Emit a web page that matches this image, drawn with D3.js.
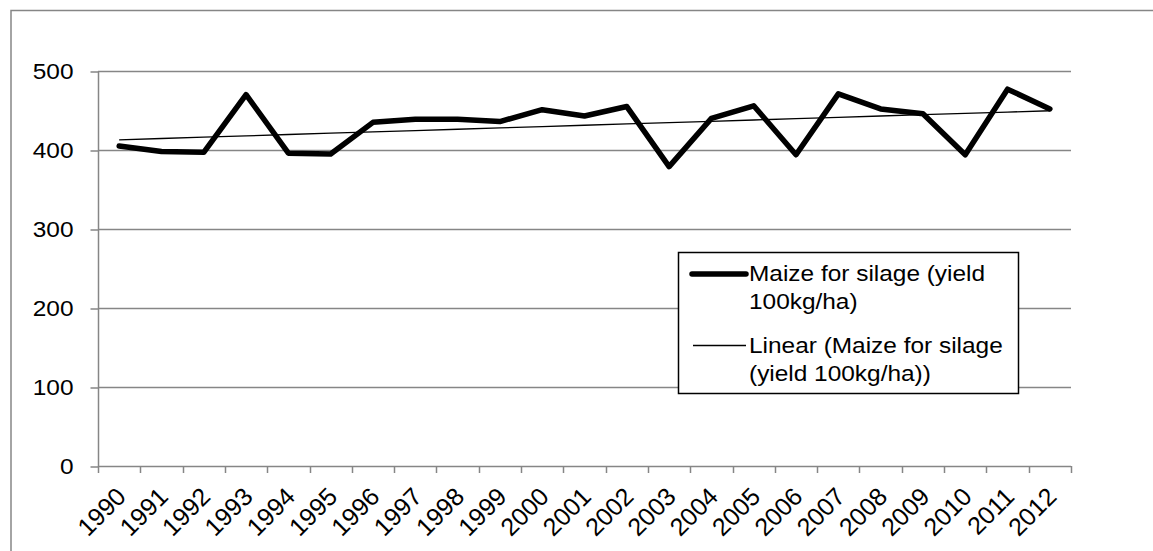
<!DOCTYPE html>
<html>
<head>
<meta charset="utf-8">
<script src="https://cdn.jsdelivr.net/npm/d3@7"></script>
<style>
  html, body { margin: 0; padding: 0; background: #fff; }
  svg { display: block; font-family: "Liberation Sans", Arial, sans-serif; }
</style>
</head>
<body>
<svg id="chart" width="1153" height="551"></svg>
<script>
const years = ["1990","1991","1992","1993","1994","1995","1996","1997","1998","1999","2000","2001","2002","2003","2004","2005","2006","2007","2008","2009","2010","2011","2012"];
const yieldValues = [405, 398, 397, 470, 396, 395, 435, 439, 439, 436, 451, 443, 455, 379, 440, 456, 394, 471, 452, 446, 394, 477, 452];
const yTicks = [0, 100, 200, 300, 400, 500];
const seriesName = "Maize for silage (yield 100kg/ha)";
const legendLines1 = ["Maize for silage (yield", "100kg/ha)"];
const legendLines2 = ["Linear (Maize for silage", "(yield 100kg/ha))"];

const svg = d3.select("#chart");
const gray = "#868686";
const fontSize = 22;
const stretch = 1.11;

// outer chart border
svg.append("rect")
  .attr("x", 11).attr("y", 10.5)
  .attr("width", 1160).attr("height", 560)
  .attr("fill", "none").attr("stroke", gray).attr("stroke-width", 1.5);

const x = d3.scaleBand().domain(years).range([98, 1071]).padding(0);
const y = d3.scaleLinear().domain([0, 500]).range([466, 71]);
const cx = d => x(d) + x.bandwidth() / 2;

// gridlines
svg.append("g")
  .selectAll("line")
  .data(yTicks.filter(t => t > 0))
  .join("line")
  .attr("x1", 98).attr("x2", 1071)
  .attr("y1", d => Math.round(y(d)) + 0.5).attr("y2", d => Math.round(y(d)) + 0.5)
  .attr("stroke", gray).attr("stroke-width", 1.5);

// y axis
const yAxis = d3.axisLeft(y).tickValues(yTicks).tickSize(8).tickPadding(17).tickFormat(d3.format("d"));
const gy = svg.append("g").attr("transform", "translate(98.5,0.5)").call(yAxis);
gy.select(".domain").attr("stroke", gray).attr("stroke-width", 1.5).attr("d", `M0,${y(500)}V${y(0)}`);
gy.selectAll(".tick line").attr("stroke", gray).attr("stroke-width", 1.5);
gy.selectAll(".tick text")
  .attr("x", null)
  .attr("transform", `translate(-25,0) scale(${stretch},1)`)
  .attr("font-size", fontSize).attr("fill", "#000")
  .attr("font-family", "'Liberation Sans', Arial, sans-serif");

// x axis line and ticks at category boundaries
const gx = svg.append("g");
gx.append("line")
  .attr("x1", 98).attr("x2", 1071)
  .attr("y1", 466.5).attr("y2", 466.5)
  .attr("stroke", gray).attr("stroke-width", 1.5);
const boundaries = years.map(d => x(d)).concat([x.range()[1]]);
gx.selectAll("line.tk")
  .data(boundaries)
  .join("line").attr("class", "tk")
  .attr("x1", d => Math.round(d) + 0.5).attr("x2", d => Math.round(d) + 0.5)
  .attr("y1", 466).attr("y2", 473)
  .attr("stroke", gray).attr("stroke-width", 1.5);

// x labels rotated
gx.selectAll("text")
  .data(years)
  .join("text")
  .attr("transform", d => `translate(${cx(d) + 2},${492}) rotate(-45)`)
  .attr("text-anchor", "end")
  .attr("dy", "0.35em")
  .attr("font-size", 25)
  .attr("fill", "#000")
  .text(d => d);

// data line
const line = d3.line().x((d, i) => cx(years[i])).y(d => y(d));
svg.append("path")
  .datum(yieldValues)
  .attr("d", line)
  .attr("fill", "none").attr("stroke", "#000")
  .attr("stroke-width", 5.5)
  .attr("stroke-linejoin", "round").attr("stroke-linecap", "round");

// linear trendline (least squares on the series)
const n = yieldValues.length;
const xs = d3.range(n);
const mx = d3.mean(xs), my = d3.mean(yieldValues);
const slope = d3.sum(xs, i => (i - mx) * (yieldValues[i] - my)) / d3.sum(xs, i => (i - mx) ** 2);
const icpt = my - slope * mx;
const trend = xs.map(i => icpt + slope * i);
svg.append("path")
  .datum(trend)
  .attr("d", line)
  .attr("fill", "none").attr("stroke", "#000")
  .attr("stroke-width", 1.3);

// legend
const lg = svg.append("g");
lg.append("rect")
  .attr("x", 678.5).attr("y", 252.5).attr("width", 340).attr("height", 141)
  .attr("fill", "#fff").attr("stroke", "#000").attr("stroke-width", 1.5);
lg.append("line").attr("x1", 692).attr("x2", 746).attr("y1", 274).attr("y2", 274)
  .attr("stroke", "#000").attr("stroke-width", 5.5).attr("stroke-linecap", "round");
lg.append("line").attr("x1", 693).attr("x2", 746).attr("y1", 345.5).attr("y2", 345.5)
  .attr("stroke", "#000").attr("stroke-width", 1.3);
const legendRows = legendLines1.map((t, i) => ({ t, y: 281 + i * 28 }))
  .concat(legendLines2.map((t, i) => ({ t, y: 353 + i * 28 })));
lg.selectAll("text")
  .data(legendRows)
  .join("text")
  .attr("transform", d => `translate(749,${d.y}) scale(${stretch},1)`)
  .attr("font-size", fontSize).attr("fill", "#000")
  .text(d => d.t);
</script>
</body>
</html>
